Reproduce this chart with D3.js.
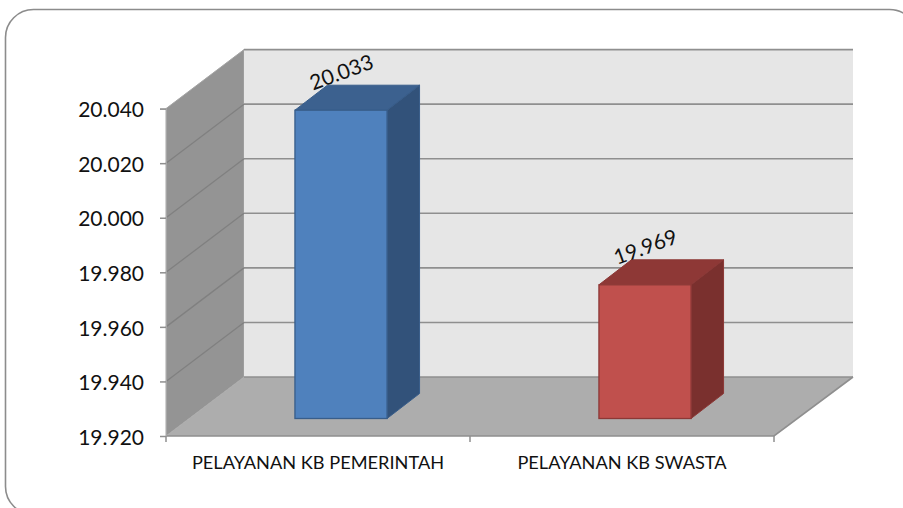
<!DOCTYPE html>
<html>
<head>
<meta charset="utf-8">
<script src="https://cdn.jsdelivr.net/npm/d3@7"></script>
<style>
  html, body { margin: 0; padding: 0; background: #fff; overflow: hidden; }
  svg { display: block; }
  text { fill: #111; font-family: Lato, sans-serif; }
</style>
</head>
<body>
<div id="chart"></div>
<script>
const categories = ["PELAYANAN KB PEMERINTAH", "PELAYANAN KB SWASTA"];
const values = [20.033, 19.969];
const yTicks = [19.92, 19.94, 19.96, 19.98, 20.0, 20.02, 20.04];
const frontColors = ["#4f81bd", "#c0504d"];
const topColors = ["#3c618f", "#8e3836"];
const sideColors = ["#32527a", "#7a302e"];
const strokeColors = ["#385d8a", "#8c3836"];

const width = 903;
const height = 508;

// 3D offsets: full floor depth, gap in front of the bars, bar depth
const depth = { dx: 79, dy: -59 };
const gap = { dx: 23, dy: -17.5 };
const barDepth = { dx: 32.5, dy: -25 };

const svg = d3
  .select("#chart")
  .append("svg")
  .attr("width", width)
  .attr("height", height);

// outer rounded frame, runs off the window on the right and bottom
svg
  .append("rect")
  .attr("x", 5.5)
  .attr("y", 9.5)
  .attr("width", 912)
  .attr("height", 505)
  .attr("rx", 28)
  .attr("fill", "#fff")
  .attr("stroke", "#8c8c8c")
  .attr("stroke-width", 1.6);

const x = d3
  .scaleBand()
  .domain(categories)
  .range([166, 774])
  .paddingInner(0.697)
  .paddingOuter(0.3485);

const y = d3.scaleLinear().domain([19.92, 20.04]).range([436, 108.6]);

const [x0, x1] = x.range();
const [y0, y1] = y.range();

const poly = (pts) => pts.map((p) => p.join(",")).join(" ");

// left wall
svg
  .append("polygon")
  .attr("points", poly([
    [x0, y0],
    [x0, y1],
    [x0 + depth.dx - 1, y1 + depth.dy],
    [x0 + depth.dx - 1, y0 + depth.dy],
  ]))
  .attr("fill", "#949494")
  .attr("stroke", "#a6a6a6");

// back wall
svg
  .append("rect")
  .attr("x", x0 + depth.dx - 1)
  .attr("y", y1 + depth.dy)
  .attr("width", x1 + depth.dx - (x0 + depth.dx - 1))
  .attr("height", y0 - y1)
  .attr("fill", "#e6e6e6");

// floor
svg
  .append("polygon")
  .attr("points", poly([
    [x0, y0],
    [x1, y0],
    [x1 + depth.dx, y0 + depth.dy],
    [x0 + depth.dx - 1, y0 + depth.dy],
  ]))
  .attr("fill", "#adadad");

// gridlines on the back wall and the left wall
svg
  .selectAll("line.grid-back")
  .data(yTicks)
  .join("line")
  .attr("class", "grid-back")
  .attr("x1", x0 + depth.dx - 1)
  .attr("x2", x1 + depth.dx)
  .attr("y1", (d) => y(d) + depth.dy)
  .attr("y2", (d) => y(d) + depth.dy)
  .attr("stroke", "#8f8f8f")
  .attr("stroke-width", 1.6);

svg
  .selectAll("line.grid-side")
  .data(yTicks.slice(1, -1))
  .join("line")
  .attr("class", "grid-side")
  .attr("x1", x0)
  .attr("x2", x0 + depth.dx - 1)
  .attr("y1", (d) => y(d))
  .attr("y2", (d) => y(d) + depth.dy)
  .attr("stroke", "#808080")
  .attr("stroke-width", 1.3);

// floor edges
svg
  .append("polyline")
  .attr("points", poly([
    [x0, y0],
    [x1, y0],
    [x1 + depth.dx, y0 + depth.dy],
  ]))
  .attr("fill", "none")
  .attr("stroke", "#8f8f8f")
  .attr("stroke-width", 1.6);

// axes
const yAxis = svg
  .append("g")
  .attr("transform", `translate(${x0},0)`)
  .call(
    d3.axisLeft(y)
      .tickValues(yTicks)
      .tickSize(6)
      .tickPadding(16)
      .tickFormat(d3.format(".3f"))
  );
yAxis.selectAll("line").attr("stroke", "#8f8f8f").attr("stroke-width", 1.5);
yAxis.select(".domain").attr("stroke", "#a6a6a6");
yAxis
  .selectAll("text")
  .attr("y", 1.5)
  .style("font-size", "21px")
  .style("font-family", "Lato, sans-serif");

const xAxis = svg
  .append("g")
  .attr("transform", `translate(0,${y0})`)
  .call(d3.axisBottom(x).tickSize(0).tickPadding(20));
xAxis.select(".domain").remove();
xAxis.selectAll("text").style("font-size", "18.2px").style("font-family", "Lato, sans-serif");

// category boundary ticks
svg
  .selectAll("line.x-tick")
  .data([...categories.map((c) => x(c) - x.step() * 0.3485), x1])
  .join("line")
  .attr("class", "x-tick")
  .attr("x1", (d) => d)
  .attr("x2", (d) => d)
  .attr("y1", y0)
  .attr("y2", y0 + 6)
  .attr("stroke", "#8f8f8f")
  .attr("stroke-width", 1.5);

// bars
const bars = svg
  .selectAll("g.bar")
  .data(categories)
  .join("g")
  .attr("class", "bar");

bars.each(function (c, i) {
  const g = d3.select(this);
  const left = x(c) + gap.dx;
  const right = left + x.bandwidth();
  const top = y(values[i]) + gap.dy;
  const bottom = y0 + gap.dy;

  g.append("polygon")
    .attr("points", poly([
      [left, top],
      [right, top],
      [right + barDepth.dx, top + barDepth.dy],
      [left + barDepth.dx, top + barDepth.dy],
    ]))
    .attr("fill", topColors[i])
    .attr("stroke", strokeColors[i]);

  g.append("polygon")
    .attr("points", poly([
      [right, top],
      [right + barDepth.dx, top + barDepth.dy],
      [right + barDepth.dx, bottom + barDepth.dy],
      [right, bottom],
    ]))
    .attr("fill", sideColors[i])
    .attr("stroke", strokeColors[i]);

  g.append("rect")
    .attr("x", left)
    .attr("y", top)
    .attr("width", x.bandwidth())
    .attr("height", bottom - top)
    .attr("fill", frontColors[i])
    .attr("stroke", strokeColors[i])
    .attr("stroke-width", 1.3);

  const lx = left + x.bandwidth() / 2;
  const ly = top - 39;
  g.append("text")
    .attr("transform", `translate(${lx},${ly}) rotate(-20)`)
    .attr("text-anchor", "middle")
    .attr("dominant-baseline", "central")
    .style("font-size", "21px")
    .text(d3.format(".3f")(values[i]));
});
</script>
</body>
</html>
